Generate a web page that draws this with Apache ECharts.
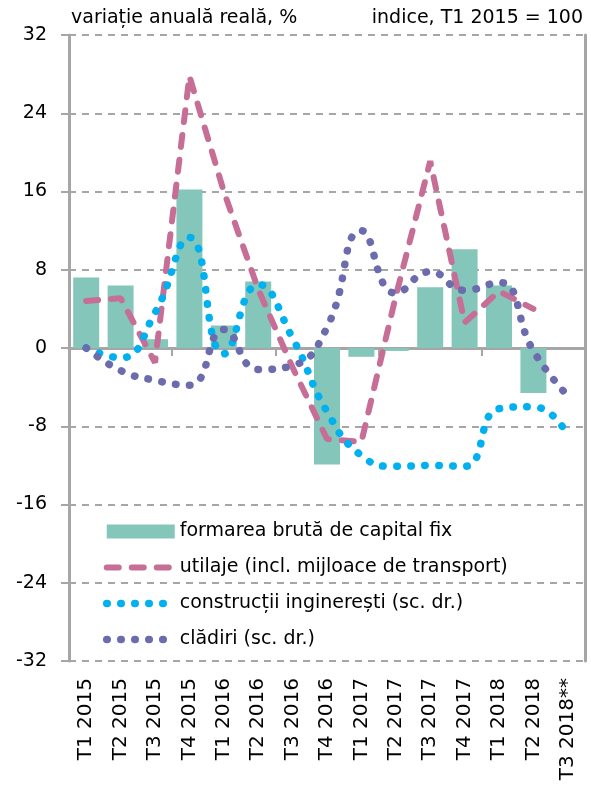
<!DOCTYPE html>
<html>
<head>
<meta charset="utf-8">
<script src="https://cdn.jsdelivr.net/npm/echarts@6/dist/echarts.min.js"></script>
<style>
  html, body { margin: 0; padding: 0; background: #fff; }
  #chart { width: 591px; height: 787px; }
</style>
</head>
<body>
<div id="chart"></div>
<script>
var categories = ['T1 2015', 'T2 2015', 'T3 2015', 'T4 2015', 'T1 2016', 'T2 2016', 'T3 2016', 'T4 2016',
  'T1 2017', 'T2 2017', 'T3 2017', 'T4 2017', 'T1 2018', 'T2 2018', 'T3 2018**'];

// formarea bruta de capital fix, variatie anuala reala, %
var fbcf = [7.2, 6.4, 0.9, 16.2, 2.3, 6.8, 0, -11.9, -0.9, -0.3, 6.2, 10.1, 6.4, -4.6, null];
// utilaje (incl. mijloace de transport)
var utilaje = [4.8, 5.1, -1.5, 27.8, 16.0, 6.0, -2.0, -9.3, -9.6, 5.3, 19.1, 2.6, 5.8, 4.0, null];
// constructii ingineresti (sc. dr.)
var constructii = [0, -1.0, 3.6, 11.3, -0.6, 6.5, 1.0, -6.5, -11.0, -12.1, -12.0, -12.1, -6.2, -6.0, -8.9];
// cladiri (sc. dr.)
var cladiri = [0, -2.3, -3.3, -3.8, 1.9, -2.2, -1.8, 2.1, 12.0, 5.6, 7.8, 5.9, 6.7, -0.3, -4.9];

var yTicks = { min: -32, max: 32, interval: 8 };

var gray = '#A6A6A6';
var fontFamily = '"DejaVu Sans", sans-serif';

var pink = '#C66E96', cyan = '#00B0F0', purple = '#6B6BAE', teal = '#85C6BA';
var dashStyle = { color: pink, width: 6, type: [12, 13], cap: 'round' };
var dotCyan = { color: cyan, width: 7.5, type: [0.5, 13.5], cap: 'round' };
var dotPurple = { color: purple, width: 7.5, type: [0.5, 13.5], cap: 'round' };
var noSymbol = { opacity: 0 };

var chart = echarts.init(document.getElementById('chart'), null, { renderer: 'canvas' });

chart.setOption({
  animation: false,
  textStyle: { fontFamily: fontFamily },
  title: [{
    text: 'variație anuală reală, %',
    left: 66, top: 4,
    textStyle: { fontSize: 19, fontWeight: 'normal', color: '#000', fontFamily: fontFamily }
  }, {
    text: 'indice, T1 2015 = 100',
    right: 3, top: 4,
    textStyle: { fontSize: 19, fontWeight: 'normal', color: '#000', fontFamily: fontFamily }
  }],
  legend: {
    orient: 'vertical',
    left: 98, top: 517,
    itemWidth: 68,
    itemHeight: 14,
    itemGap: 17,
    textStyle: { fontSize: 19, color: '#000', fontFamily: fontFamily },
    data: [
      { name: 'formarea brută de capital fix', icon: 'rect' },
      { name: 'utilaje (incl. mijloace de transport)', itemStyle: noSymbol, lineStyle: dashStyle },
      { name: 'construcții inginerești (sc. dr.)', itemStyle: noSymbol, lineStyle: dotCyan },
      { name: 'clădiri (sc. dr.)', itemStyle: noSymbol, lineStyle: dotPurple }
    ]
  },
  grid: { left: 69, right: 6, top: 35, bottom: 126 },
  xAxis: [{
    type: 'category',
    data: categories,
    axisLine: { onZero: true, lineStyle: { color: gray, width: 3 } },
    axisTick: { show: true, length: 8, lineStyle: { color: gray, width: 2 } },
    axisLabel: { show: false }
  }, {
    type: 'category',
    data: categories,
    position: 'bottom',
    axisLine: { show: false, onZero: false },
    axisTick: { show: false },
    axisLabel: { rotate: 90, fontSize: 20, color: '#000', margin: 17, fontFamily: fontFamily }
  }],
  yAxis: [{
    type: 'value',
    min: yTicks.min, max: yTicks.max, interval: yTicks.interval,
    axisLine: { show: true, lineStyle: { color: gray, width: 3 } },
    axisTick: { show: true, length: 8, lineStyle: { color: gray, width: 2 } },
    axisLabel: { fontSize: 19, color: '#000', margin: 22, fontFamily: fontFamily },
    splitLine: { lineStyle: { color: gray, width: 2, type: [7, 6] } }
  }, {
    type: 'value',
    position: 'right',
    min: yTicks.min, max: yTicks.max, interval: yTicks.interval,
    axisLine: { show: true, lineStyle: { color: gray, width: 3 } },
    axisTick: { show: false },
    axisLabel: { show: false },
    splitLine: { show: false }
  }],
  series: [{
    name: 'formarea brută de capital fix',
    type: 'bar',
    barWidth: 26,
    itemStyle: { color: teal },
    data: fbcf
  }, {
    name: 'utilaje (incl. mijloace de transport)',
    type: 'line',
    symbol: 'none',
    itemStyle: { color: pink },
    lineStyle: dashStyle,
    data: utilaje
  }, {
    name: 'construcții inginerești (sc. dr.)',
    type: 'line',
    symbol: 'none',
    smooth: 0.5,
    itemStyle: { color: cyan },
    lineStyle: dotCyan,
    data: constructii
  }, {
    name: 'clădiri (sc. dr.)',
    type: 'line',
    symbol: 'none',
    smooth: 0.5,
    itemStyle: { color: purple },
    lineStyle: dotPurple,
    data: cladiri
  }]
});
</script>
</body>
</html>
